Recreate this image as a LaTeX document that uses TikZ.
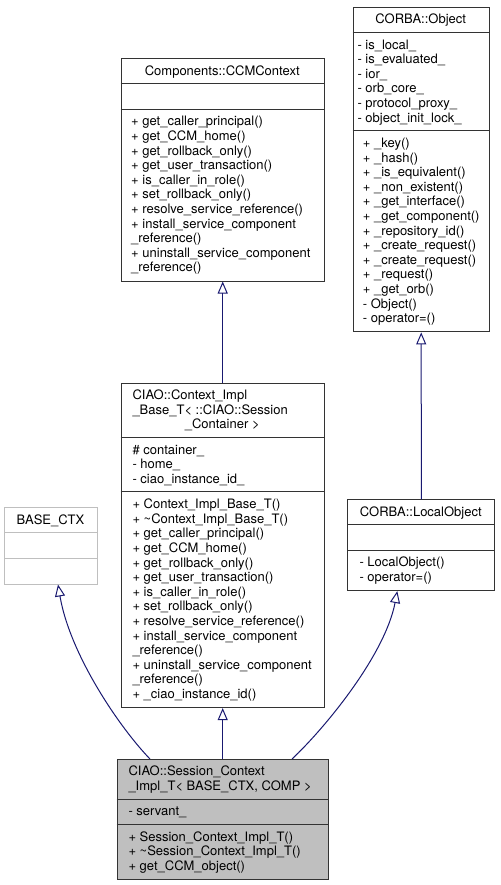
\documentclass[tikz,border=0pt]{standalone}
\usepackage{fontspec}
\setmainfont{TeX Gyre Heros}
\usetikzlibrary{arrows.meta}
\definecolor{edgeblue}{RGB}{25,25,112}
\definecolor{boxgray}{RGB}{191,191,191}
\newcommand{\memberfont}{\fontsize{13}{14.6}\selectfont}
\newcommand{\inheritarrow}{-{Triangle[open,length=12pt,width=10pt]}}

\begin{document}
\begin{tikzpicture}[x=1pt, y=-1pt,
    classbox/.style={draw=black!80, fill=white, line width=1pt, anchor=north west, inner sep=0pt},
    members/.style={anchor=north west, inner sep=0pt, align=left, font=\memberfont},
    classname/.style={anchor=north, inner sep=0pt, font=\memberfont},
    sepline/.style={draw=black!80, line width=1pt},
    edge/.style={draw=edgeblue, line width=1pt}]
    \useasboundingbox (0,0) rectangle (500,885);

    % Components::CCMContext
    \node[classbox, minimum width=203pt, minimum height=222.2pt] (ccmcontext) at (120.7,58.3) {};
    \draw[sepline] (120.7,83.7) -- (323.7,83.7);
    \draw[sepline] (120.7,109.1) -- (323.7,109.1);
    \node[classname] (ccmtitle) at (222.2,64.6) {\strut Components::CCMContext};
    \node[members] (ccmops) at (131,115.4) {\strut + get\_caller\_principal()\\
        + get\_CCM\_home()\\ + get\_rollback\_only()\\ + get\_user\_transaction()\\
        + is\_caller\_in\_role()\\ + set\_rollback\_only()\\ + resolve\_service\_reference()\\
        + install\_service\_component\\ \_reference()\\ + uninstall\_service\_component\\
        \_reference()};

    % CORBA::Object
    \node[classbox, minimum width=136pt, minimum height=324.4pt] (corbaobject) at (352.7,7) {};
    \draw[sepline] (352.7,32.4) -- (488.7,32.4);
    \draw[sepline] (352.7,130.8) -- (488.7,130.8);
    \node[classname] (objtitle) at (420.7,13.3) {\strut CORBA::Object};
    \node[members] (objattrs) at (357.3,38.7) {\strut - is\_local\_\\ - is\_evaluated\_\\
        - ior\_\\ - orb\_core\_\\ - protocol\_proxy\_\\ - object\_init\_lock\_};
    \node[members] (objops) at (362.7,137.1) {\strut + \_key()\\ + \_hash()\\
        + \_is\_equivalent()\\ + \_non\_existent()\\ + \_get\_interface()\\
        + \_get\_component()\\ + \_repository\_id()\\ + \_create\_request()\\
        + \_create\_request()\\ + \_request()\\ + \_get\_orb()\\ - Object()\\ - operator=()};

    % CIAO::Context_Impl_Base_T
    \node[classbox, minimum width=203pt, minimum height=324.4pt] (implbase) at (120.7,382.7) {};
    \draw[sepline] (120.7,437.3) -- (323.7,437.3);
    \draw[sepline] (120.7,491.9) -- (323.7,491.9);
    \node[members] (impltitle) at (132.3,389) {\strut CIAO::Context\_Impl\\ \_Base\_T< ::CIAO::Session};
    \node[classname] (impltitleend) at (222.2,418.2) {\strut \_Container >};
    \node[members] (implattrs) at (132.3,443.6) {\strut \# container\_\\ - home\_\\
        - ciao\_instance\_id\_};
    \node[members] (implops) at (132.3,498.2) {\strut + Context\_Impl\_Base\_T()\\
        + \textasciitilde Context\_Impl\_Base\_T()\\ + get\_caller\_principal()\\
        + get\_CCM\_home()\\ + get\_rollback\_only()\\ + get\_user\_transaction()\\
        + is\_caller\_in\_role()\\ + set\_rollback\_only()\\ + resolve\_service\_reference()\\
        + install\_service\_component\\ \_reference()\\ + uninstall\_service\_component\\
        \_reference()\\ + \_ciao\_instance\_id()};

    % CORBA::LocalObject
    \node[classbox, minimum width=147pt, minimum height=90.8pt] (localobject) at (347.3,499.3) {};
    \draw[sepline] (347.3,524.7) -- (494.3,524.7);
    \draw[sepline] (347.3,550.1) -- (494.3,550.1);
    \node[classname] (localtitle) at (420.8,505.6) {\strut CORBA::LocalObject};
    \node[members] (localops) at (359.3,556.4) {\strut - LocalObject()\\ - operator=()};

    % BASE_CTX
    \node[classbox, draw=boxgray, minimum width=92.4pt, minimum height=76.2pt] (basectx) at (4.3,507.3) {};
    \draw[sepline, draw=boxgray] (4.3,532.7) -- (96.7,532.7);
    \draw[sepline, draw=boxgray] (4.3,558.1) -- (96.7,558.1);
    \node[classname] (basetitle) at (50.5,513.6) {\strut BASE\_CTX};

    % CIAO::Session_Context_Impl_T
    \node[classbox, fill=boxgray, minimum width=211pt, minimum height=120pt] (session) at (116.7,759) {};
    \draw[sepline] (116.7,799) -- (327.7,799);
    \draw[sepline] (116.7,824.4) -- (327.7,824.4);
    \node[members] (sestitle) at (128.3,765.3) {\strut CIAO::Session\_Context\\
        \_Impl\_T< BASE\_CTX, COMP >};
    \node[members] (sesattrs) at (128.3,805.3) {\strut - servant\_};
    \node[members] (sesops) at (128.3,830.7) {\strut + Session\_Context\_Impl\_T()\\
        + \textasciitilde Session\_Context\_Impl\_T()\\ + get\_CCM\_object()};

    % inheritance
    \draw[edge, \inheritarrow] (implbase.north) -- (ccmcontext.south);
    \draw[edge, \inheritarrow] (localobject.north) -- (corbaobject.south);
    \draw[edge, \inheritarrow] (session.north) -- (implbase.south);
    \coordinate (sesleft) at (150,759);
    \coordinate (sesright) at (292,759);
    \draw[edge, \inheritarrow] (sesleft) .. controls (120,728) and (70,655) .. ([xshift=7pt]basectx.south);
    \draw[edge, \inheritarrow] (sesright) .. controls (325,728) and (385,655) .. ([xshift=-24pt]localobject.south);
\end{tikzpicture}
\end{document}
